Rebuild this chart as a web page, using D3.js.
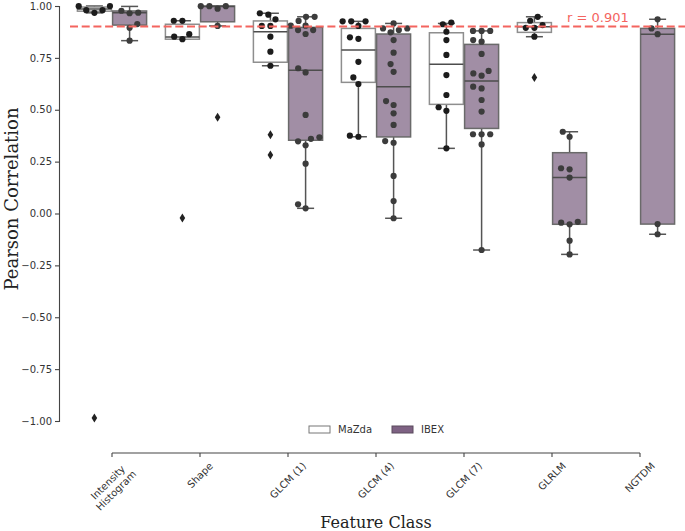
<!DOCTYPE html>
<html>
<head>
<meta charset="utf-8">
<script src="https://cdn.jsdelivr.net/npm/d3@7"></script>
<style>
  html, body { margin: 0; padding: 0; background: #fff; }
  svg { display: block; }
</style>
</head>
<body>
<svg id="chart" width="685" height="531"></svg>
<script>
// ---------------- DATA ----------------
const categories = ["Intensity\nHistogram", "Shape", "GLCM (1)", "GLCM (4)", "GLCM (7)", "GLRLM", "NGTDM"];
const hues = ["MaZda", "IBEX"];
const yTicks = [-1.0, -0.75, -0.5, -0.25, 0.0, 0.25, 0.5, 0.75, 1.0];
const thresholdR = 0.901;
const thresholdLabel = "r = 0.901";
const xTitle = "Feature Class";
const yTitle = "Pearson Correlation";

// MaZda box statistics (null = no data)
const mazdaQ1          = [0.975, 0.840, 0.729, 0.632, 0.526, 0.873, null];
const mazdaMedian      = [0.985, 0.851, 0.876, 0.788, 0.719, 0.900, null];
const mazdaQ3          = [0.995, 0.912, 0.928, 0.892, 0.871, 0.920, null];
const mazdaWhiskerLow  = [0.967, 0.840, 0.712, 0.370, 0.314, 0.852, null];
const mazdaWhiskerHigh = [1.000, 0.929, 0.965, 0.926, 0.916, 0.948, null];
const mazdaOutliers    = [[-0.985], [-0.022], [0.380, 0.282], [], [], [0.656], []];
const mazdaPoints = [
  [1.0, 0.999, 0.98, 0.967, 0.98],
  [0.929, 0.929, 0.852, 0.840, 0.864],
  [0.965, 0.958, 0.936, 0.904, 0.904, 0.852, 0.780, 0.712],
  [0.926, 0.926, 0.926, 0.904, 0.849, 0.842, 0.731, 0.656, 0.624, 0.375, 0.370],
  [0.912, 0.920, 0.876, 0.836, 0.764, 0.667, 0.571, 0.512, 0.495, 0.314],
  [0.929, 0.948, 0.895, 0.895, 0.908, 0.852],
  []
];

// IBEX box statistics
const ibexQ1          = [0.908, 0.924, 0.353, 0.369, 0.410, -0.052, -0.051];
const ibexMedian      = [0.967, 0.997, 0.690, 0.611, 0.639, 0.174, 0.864];
const ibexQ3          = [0.976, 1.000, 0.897, 0.865, 0.815, 0.293, 0.892];
const ibexWhiskerLow  = [0.833, 0.904, 0.025, -0.023, -0.176, -0.197, -0.100];
const ibexWhiskerHigh = [0.998, 1.000, 0.948, 0.916, 0.880, 0.394, 0.936];
const ibexOutliers    = [[], [0.464], [], [], [], [], []];
const ibexPoints = [
  [0.965, 0.968, 0.977, 0.913, 0.895, 0.833],
  [0.999, 0.987, 0.999, 0.999, 0.904],
  [0.948, 0.948, 0.928, 0.905, 0.905, 0.884, 0.865, 0.884, 0.700, 0.680, 0.475, 0.348, 0.360, 0.367, 0.329, 0.240, 0.044, 0.025],
  [0.916, 0.892, 0.873, 0.884, 0.892, 0.836, 0.775, 0.720, 0.683, 0.542, 0.523, 0.483, 0.427, 0.349, 0.341, 0.181, 0.060, -0.023],
  [0.880, 0.880, 0.880, 0.836, 0.828, 0.769, 0.675, 0.664, 0.687, 0.611, 0.603, 0.547, 0.491, 0.382, 0.382, 0.382, 0.333, -0.176],
  [0.370, 0.394, 0.213, 0.218, 0.173, -0.044, -0.052, -0.040, -0.131, -0.197],
  [0.936, 0.892, 0.864, -0.051, -0.100]
];

// ---------------- STYLE ----------------
const W = 685, H = 531;
const styles = {
  MaZda: { fill: "#ffffff", fillOpacity: 1, edge: "#8e8e8e", dot: "#1c1c1c", legendFill: "#ffffff", legendEdge: "#777" },
  IBEX:  { fill: "#7d6282", fillOpacity: 0.72, edge: "#6a6a6a", dot: "#3c3c3c", legendFill: "#7e6283", legendEdge: "#5a4a5c" }
};
const lineColor = "#555";
const redColor = "#f4645f";

const svg = d3.select("#chart");

// ---------------- SCALES ----------------
const y = d3.scaleLinear().domain([-1, 1]).range([421, 6]);
const x = d3.scaleBand().domain(categories).range([68, 684]).padding(0);
const hueScale = d3.scaleBand().domain(hues).range([-0.4 * x.bandwidth(), 0.4 * x.bandwidth()]);
const boxW = hueScale.bandwidth() - 1.2;
const center = c => x(c) + x.bandwidth() / 2;
const hueCenter = (c, h) => center(c) + hueScale(h) + hueScale.bandwidth() / 2;

// ---------------- AXES ----------------
const xAxisY = 453, yAxisX = 59;

const yAxis = svg.append("g")
  .attr("transform", `translate(${yAxisX},0)`)
  .call(d3.axisLeft(y).tickValues(yTicks).tickFormat(d3.format(".2f")).tickSizeOuter(0).tickSize(4).tickPadding(3));
yAxis.select(".domain").attr("stroke", "#444").attr("stroke-width", 1.1);
yAxis.selectAll(".tick line").attr("stroke", "#444").attr("stroke-width", 1.1);
yAxis.selectAll(".tick text").attr("fill", "#333").style("font-family", "DejaVu Sans").style("font-size", "10px");

const xAxis = svg.append("g")
  .attr("transform", `translate(0,${xAxisY})`)
  .call(d3.axisBottom(x).tickSizeOuter(0).tickSize(4).tickFormat(""));
xAxis.select(".domain")
  .attr("d", `M${center(categories[0])},0H${center(categories[categories.length - 1])}`)
  .attr("stroke", "#444").attr("stroke-width", 1.1);
xAxis.selectAll(".tick line").attr("stroke", "#444").attr("stroke-width", 1.1);

// rotated tick labels, rotated bbox centered under tick
const fs = 10, lineH = 11.5;
categories.forEach(c => {
  const lines = c.split("\n");
  const g = svg.append("g");
  const t = g.append("text")
    .attr("text-anchor", "middle")
    .style("font-family", "DejaVu Sans").style("font-size", fs + "px").attr("fill", "#333");
  lines.forEach((ln, i) => {
    t.append("tspan").attr("x", 0)
      .attr("y", (i - (lines.length - 1) / 2) * lineH)
      .attr("dominant-baseline", "central")
      .text(ln);
  });
  const w = d3.max(t.selectAll("tspan").nodes(), n => n.getComputedTextLength());
  const h = lines.length * lineH;
  const side = (w + h) / Math.SQRT2;
  g.attr("transform", `translate(${center(c)},${xAxisY + 7 + side / 2}) rotate(-45)`);
});

// axis titles
svg.append("text")
  .attr("transform", `translate(18,${199}) rotate(-90)`)
  .attr("text-anchor", "middle")
  .style("font-family", "DejaVu Serif").style("font-size", "18px").attr("fill", "#222")
  .text(yTitle);
svg.append("text")
  .attr("x", (center(categories[0]) + center(categories[categories.length - 1])) / 2)
  .attr("y", 528)
  .attr("text-anchor", "middle")
  .style("font-family", "DejaVu Serif").style("font-size", "16px").attr("fill", "#222")
  .text(xTitle);

// ---------------- BOXES ----------------
const series = [
  { hue: "MaZda", q1: mazdaQ1, med: mazdaMedian, q3: mazdaQ3, wl: mazdaWhiskerLow, wh: mazdaWhiskerHigh, out: mazdaOutliers, pts: mazdaPoints },
  { hue: "IBEX",  q1: ibexQ1,  med: ibexMedian,  q3: ibexQ3,  wl: ibexWhiskerLow,  wh: ibexWhiskerHigh,  out: ibexOutliers,  pts: ibexPoints }
];

const plot = svg.append("g");
series.forEach(s => {
  const st = styles[s.hue];
  categories.forEach((c, i) => {
    if (s.q1[i] === null) return;
    const cx = hueCenter(c, s.hue);
    const g = plot.append("g");
    g.append("line").attr("x1", cx).attr("x2", cx).attr("y1", y(s.q3[i])).attr("y2", y(s.wh[i]))
      .attr("stroke", lineColor).attr("stroke-width", 1.5);
    g.append("line").attr("x1", cx).attr("x2", cx).attr("y1", y(s.q1[i])).attr("y2", y(s.wl[i]))
      .attr("stroke", lineColor).attr("stroke-width", 1.5);
    [s.wh[i], s.wl[i]].forEach(v => {
      g.append("line").attr("x1", cx - boxW / 4).attr("x2", cx + boxW / 4).attr("y1", y(v)).attr("y2", y(v))
        .attr("stroke", lineColor).attr("stroke-width", 1.5);
    });
    g.append("rect").attr("x", cx - boxW / 2).attr("width", boxW)
      .attr("y", y(s.q3[i])).attr("height", Math.max(y(s.q1[i]) - y(s.q3[i]), 0.5))
      .attr("fill", st.fill).attr("fill-opacity", st.fillOpacity)
      .attr("stroke", st.edge).attr("stroke-width", 1.5);
    g.append("line").attr("x1", cx - boxW / 2).attr("x2", cx + boxW / 2)
      .attr("y1", y(s.med[i])).attr("y2", y(s.med[i]))
      .attr("stroke", "#4d4d4d").attr("stroke-width", 1.5);
    s.out[i].forEach(v => {
      g.append("path").attr("d", "M0,-4.5L2.8,0L0,4.5L-2.8,0Z")
        .attr("transform", `translate(${cx},${y(v)})`).attr("fill", "#222");
    });
  });
});

// ---------------- SWARM POINTS ----------------
const swarmR = 4.1, dotR = 3.1;
function swarm(values, cx, halfW) {
  const pts = values.map(v => ({ v, py: y(v) })).sort((a, b) => b.py - a.py);
  const placed = [];
  pts.forEach((p, idx) => {
    if (idx === 0) { p.px = cx; placed.push(p); return; }
    const nb = placed.filter(q => Math.abs(q.py - p.py) <= 2 * swarmR);
    const cands = [cx];
    nb.forEach(q => {
      const dy = p.py - q.py;
      const dx = Math.sqrt(Math.max(4 * swarmR * swarmR - dy * dy, 0)) * 1.05;
      cands.push(q.px - dx, q.px + dx);
    });
    const order = cands.map((cc, k) => ({ cc, k }))
      .sort((a, b) => (Math.abs(a.cc - cx) - Math.abs(b.cc - cx)) || (a.k - b.k));
    let chosen = cx;
    for (const o of order) {
      if (nb.every(q => (q.px - o.cc) ** 2 + (q.py - p.py) ** 2 >= (2 * swarmR) ** 2 - 1e-6)) { chosen = o.cc; break; }
    }
    p.px = chosen;
    placed.push(p);
  });
  placed.forEach(p => { p.px = Math.max(cx - halfW, Math.min(cx + halfW, p.px)); });
  return placed;
}

series.forEach(s => {
  const st = styles[s.hue];
  categories.forEach((c, i) => {
    const cx = hueCenter(c, s.hue);
    const placed = swarm(s.pts[i], cx, hueScale.bandwidth() / 2);
    plot.selectAll(null).data(placed).enter().append("circle")
      .attr("cx", d => d.px).attr("cy", d => d.py).attr("r", dotR)
      .attr("fill", st.dot);
  });
});

// ---------------- THRESHOLD LINE ----------------
svg.append("line")
  .attr("x1", 70).attr("x2", W).attr("y1", y(thresholdR)).attr("y2", y(thresholdR))
  .attr("stroke", redColor).attr("stroke-width", 2).attr("stroke-dasharray", "8,3.7");
svg.append("text")
  .attr("x", 567).attr("y", y(thresholdR) - 5)
  .style("font-family", "DejaVu Sans").style("font-size", "13px").attr("fill", redColor)
  .text(thresholdLabel);

// ---------------- LEGEND ----------------
const legend = svg.append("g").attr("transform", "translate(309,426)");
const legendStep = 83;
hues.forEach((h, i) => {
  const st = styles[h];
  const g = legend.append("g").attr("transform", `translate(${i * legendStep},0)`);
  g.append("rect").attr("x", 0).attr("y", 0).attr("width", 21).attr("height", 7)
    .attr("fill", st.legendFill).attr("stroke", st.legendEdge).attr("stroke-width", 1);
  g.append("text").attr("x", 29).attr("y", 3.5).attr("dominant-baseline", "central")
    .style("font-family", "DejaVu Sans").style("font-size", "10px").attr("fill", "#333")
    .text(h);
});
</script>
</body>
</html>
